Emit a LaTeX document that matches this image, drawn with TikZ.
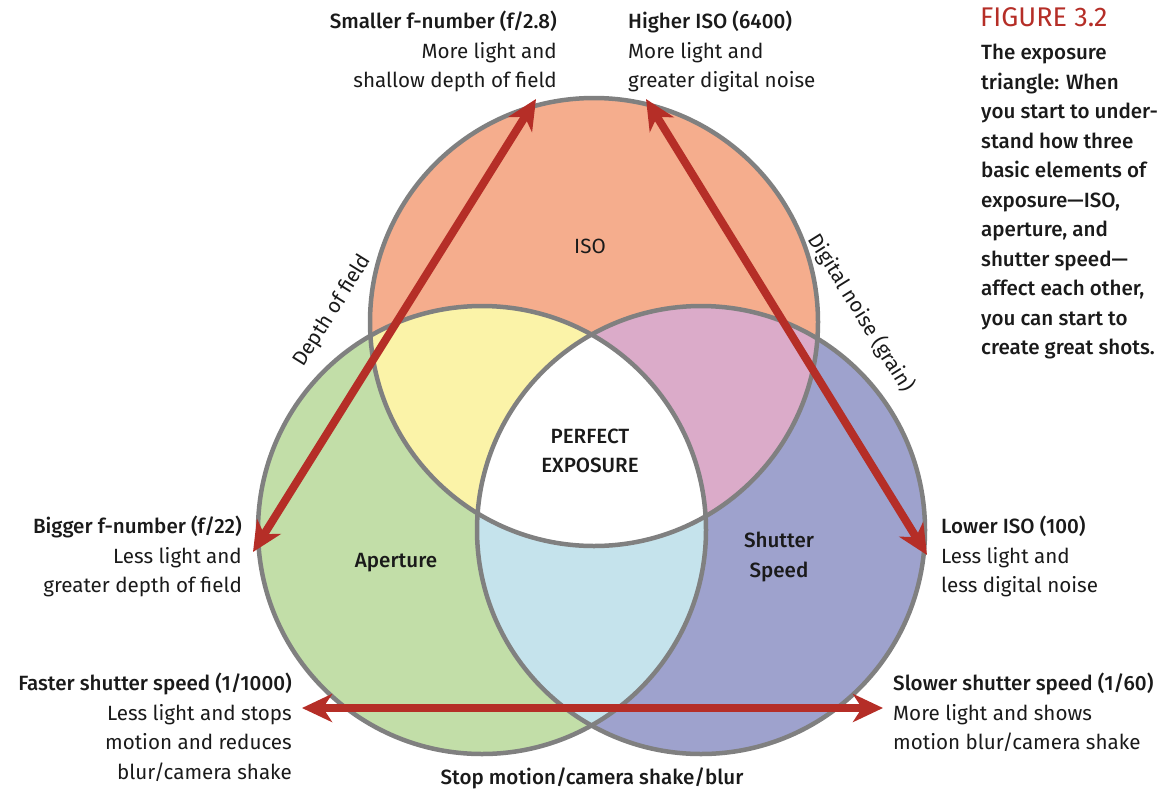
\documentclass[tikz,border=0pt]{standalone}
\usepackage{fontspec}
\setmainfont{Fira Sans}[BoldFont={Fira Sans Medium}]
\usetikzlibrary{arrows.meta}
\definecolor{isoC}{HTML}{F5AD8D}
\definecolor{apeC}{HTML}{C2DEA8}
\definecolor{shuC}{HTML}{9EA2CD}
\definecolor{yelC}{HTML}{FBF3A8}
\definecolor{pnkC}{HTML}{DBABC9}
\definecolor{lblC}{HTML}{C5E3EC}
\definecolor{ringC}{HTML}{808080}
\definecolor{arrC}{HTML}{B52E27}
\definecolor{txtC}{HTML}{1A1A1A}
\begin{document}
\begin{tikzpicture}[x=1pt,y=-1pt,
  txt/.style={font=\fontsize{20.6}{29.5}\selectfont, inner sep=0pt, text=txtC},
  ring/.style={draw=ringC, line width=4.5pt},
  arr/.style={draw=arrC, line width=8pt, {Stealth[length=30pt,width=28pt,inset=9pt]}-{Stealth[length=30pt,width=28pt,inset=9pt]}}
]
\useasboundingbox (0,0) rectangle (1174,790);
\coordinate (T) at (594,322);
\coordinate (L) at (482,530);
\coordinate (R) at (701,530);
% base fills
\fill[isoC] (T) circle[radius=224pt];
\fill[apeC] (L) circle[radius=224pt];
\fill[shuC] (R) circle[radius=224pt];
% pairwise
\begin{scope}\clip (T) circle[radius=224pt]; \fill[yelC] (L) circle[radius=224pt];\end{scope}
\begin{scope}\clip (T) circle[radius=224pt]; \fill[pnkC] (R) circle[radius=224pt];\end{scope}
\begin{scope}\clip (L) circle[radius=224pt]; \fill[lblC] (R) circle[radius=224pt];\end{scope}
\begin{scope}\clip (L) circle[radius=224pt]; \clip (R) circle[radius=224pt]; \fill[white] (T) circle[radius=224pt];\end{scope}
% outlines
\draw[ring] (T) circle[radius=224pt];
\draw[ring] (L) circle[radius=224pt];
\draw[ring] (R) circle[radius=224pt];
% arrows
\coordinate (a1) at (253,552);
\coordinate (a2) at (536,99);
\coordinate (b1) at (646,99);
\coordinate (b2) at (927,555);
\coordinate (c1) at (302,708);
\coordinate (c2) at (883,708);
\draw[arr] (a1) -- (a2);
\draw[arr] (b1) -- (b2);
\draw[arr] (c1) -- (c2);
% circle labels
\node[txt] (iso) at (590,246) {ISO};
\node[txt] (ape) at (396,563) {\textbf{Aperture}};
\node[txt, align=center, font=\bfseries\fontsize{20.6}{29.5}\selectfont] (shu) at (779,557) {Shutter\\Speed};
\node[txt, align=center, font=\bfseries\fontsize{20.6}{29}\selectfont] (pe) at (590,451) {PERFECT\\EXPOSURE};
\node[txt, rotate=58] (dof) at (333,311) {Depth of field};
\node[txt, rotate=-58] (dn) at (861,313) {Digital noise (grain)};
% outer labels
\node[txt, align=right, anchor=north east] (sm) at (557,11) {\textbf{Smaller f-number (f/2.8)}\\More light and\\shallow depth of field};
\node[txt, align=left, anchor=north west] (hi) at (628,11) {\textbf{Higher ISO (6400)}\\More light and\\greater digital noise};
\node[txt, align=right, anchor=north east] (bi) at (242,516) {\textbf{Bigger f-number (f/22)}\\Less light and\\greater depth of field};
\node[txt, align=left, anchor=north west] (lo) at (941,516) {\textbf{Lower ISO (100)}\\Less light and\\less digital noise};
\node[txt, align=right, anchor=north east] (fa) at (292,673) {\textbf{Faster shutter speed (1/1000)}\\Less light and stops\\motion and reduces\\blur/camera shake};
\node[txt, align=left, anchor=north west] (sl) at (893,673) {\textbf{Slower shutter speed (1/60)}\\More light and shows\\motion blur/camera shake};
\node[txt, anchor=north] (st) at (592,768) {\textbf{Stop motion/camera shake/blur}};
% caption
\node[txt, anchor=north west, text=arrC, font=\fontsize{27}{29}\selectfont] (fig) at (980,7) {FIGURE 3.2};
\node[txt, align=left, anchor=north west, font=\bfseries\fontsize{20.6}{29.5}\selectfont] (cap) at (981,44) {The exposure\\triangle: When\\you start to under-\\stand how three\\basic elements of\\exposure—ISO,\\aperture, and\\shutter speed—\\affect each other,\\you can start to\\create great shots.};
\end{tikzpicture}
\end{document}
